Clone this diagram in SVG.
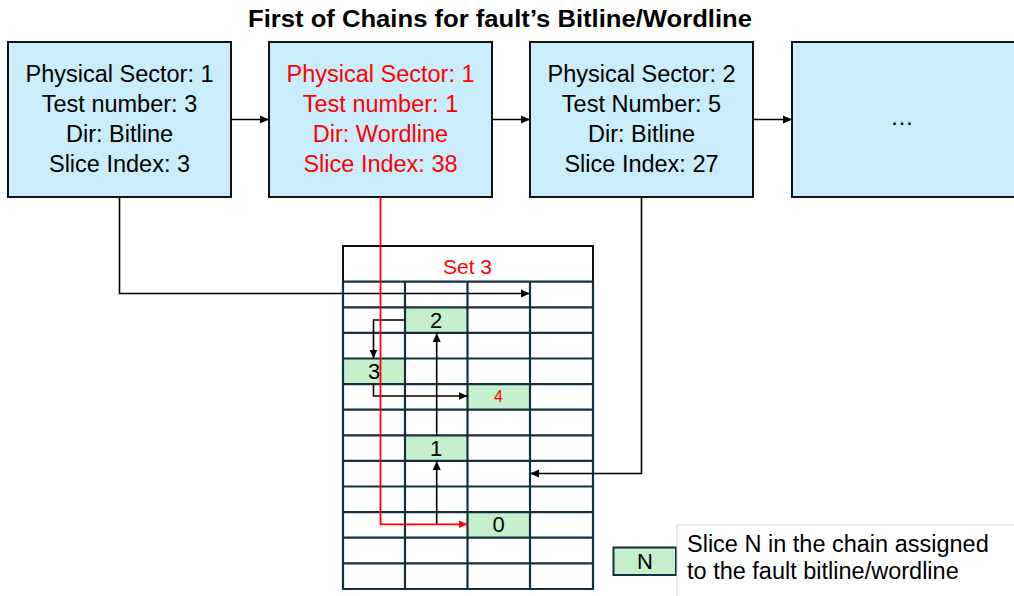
<svg xmlns="http://www.w3.org/2000/svg" width="1014" height="596" viewBox="0 0 1014 596">
<style>
.box{fill:#caedfb;stroke:#111;stroke-width:2}
.t{font-family:"Liberation Sans",Arial,sans-serif;font-size:23.5px;text-anchor:middle;fill:#000}
.red{fill:#ff0000}
.grid{stroke:#14303f;stroke-width:2.2;fill:none}
.cell{fill:#c6efcb}
.num{font-family:"Liberation Sans",Arial,sans-serif;font-size:22px;text-anchor:middle;fill:#000}
.lg{font-family:"Liberation Sans",Arial,sans-serif;font-size:23.5px;fill:#000}
.ln{fill:none;stroke:#000;stroke-width:1.6}
.lnr{fill:none;stroke:#ff0000;stroke-width:1.8}
</style>
<defs>
<marker id="ah" markerUnits="userSpaceOnUse" markerWidth="10" markerHeight="10" refX="9" refY="5" orient="auto">
<path d="M0,1 L9,5 L0,9 z" fill="#000"/>
</marker>
<marker id="ahr" markerUnits="userSpaceOnUse" markerWidth="10" markerHeight="10" refX="9" refY="5" orient="auto">
<path d="M0,1 L9,5 L0,9 z" fill="#ff0000"/>
</marker>
</defs>
<rect width="1014" height="596" fill="#fff"/>
<text x="500" y="27" font-family="'Liberation Sans',Arial,sans-serif" font-size="23.5" font-weight="bold" text-anchor="middle" textLength="504" lengthAdjust="spacingAndGlyphs">First of Chains for fault’s Bitline/Wordline</text>

<g id="node1">
<rect class="box" x="8" y="42" width="223" height="155"/>
<text class="t" x="119.5" y="82">Physical Sector: 1</text>
<text class="t" x="119.5" y="112">Test number: 3</text>
<text class="t" x="119.5" y="142">Dir: Bitline</text>
<text class="t" x="119.5" y="172">Slice Index: 3</text>
</g>
<g id="node2">
<rect class="box" x="269" y="42" width="223" height="155"/>
<text class="t red" x="380.5" y="82">Physical Sector: 1</text>
<text class="t red" x="380.5" y="112">Test number: 1</text>
<text class="t red" x="380.5" y="142">Dir: Wordline</text>
<text class="t red" x="380.5" y="172">Slice Index: 38</text>
</g>
<g id="node3">
<rect class="box" x="530" y="42" width="223" height="155"/>
<text class="t" x="641.5" y="82">Physical Sector: 2</text>
<text class="t" x="641.5" y="112">Test Number: 5</text>
<text class="t" x="641.5" y="142">Dir: Bitline</text>
<text class="t" x="641.5" y="172">Slice Index: 27</text>
</g>
<g id="node4">
<rect class="box" x="792" y="42" width="223" height="155"/>
<text class="t" x="902" y="125">…</text>
</g>

<g id="set3">
<rect x="343" y="246" width="250" height="343" fill="#fff" stroke="#111" stroke-width="2"/>
<rect class="cell" x="405" y="307.3" width="62.5" height="25.6"/>
<rect class="cell" x="343" y="358.5" width="62" height="25.6"/>
<rect class="cell" x="467.5" y="384.1" width="62.5" height="25.6"/>
<rect class="cell" x="405" y="435.3" width="62.5" height="25.6"/>
<rect class="cell" x="467.5" y="512.1" width="62.5" height="25.6"/>
<path class="grid" d="M343,281.7H593 M343,307.3H593 M343,332.9H593 M343,358.5H593 M343,384.1H593 M343,409.7H593 M343,435.3H593 M343,460.9H593 M343,486.5H593 M343,512.1H593 M343,537.7H593 M343,563.3H593 M405,281.7V589 M467.5,281.7V589 M530,281.7V589 M343,281.7V589 M593,281.7V589 M343,589H593"/>
<text x="467.5" y="274" font-family="'Liberation Sans',Arial,sans-serif" font-size="21" text-anchor="middle" fill="#ff0000">Set 3</text>
<text class="num" x="436" y="328">2</text>
<text class="num" x="374" y="379">3</text>
<text x="498.5" y="402" font-family="'Liberation Sans',Arial,sans-serif" font-size="16" text-anchor="middle" fill="#ff0000">4</text>
<text class="num" x="436" y="456">1</text>
<text class="num" x="498.5" y="532">0</text>
</g>

<g id="legend">
<rect x="613.5" y="547.5" width="62.5" height="27.5" fill="#c6efcb" stroke="#14303f" stroke-width="2"/>
<text class="num" x="645" y="569">N</text>
<rect x="677" y="525" width="345" height="75" fill="#fff" stroke="#d9d9d9" stroke-width="1"/>
<text class="lg" x="687" y="552">Slice N in the chain assigned</text>
<text class="lg" x="687" y="579">to the fault bitline/wordline</text>
</g>

<g id="connectors">
<path class="ln" d="M231,119.5H269" marker-end="url(#ah)"/>
<path class="ln" d="M492,119.5H530" marker-end="url(#ah)"/>
<path class="ln" d="M753,119.5H792" marker-end="url(#ah)"/>
<path class="ln" d="M119.5,197V293.5H530" marker-end="url(#ah)"/>
<path class="ln" d="M641.5,197V473.5H530" marker-end="url(#ah)"/>
<path class="ln" d="M436.7,524.3V461" marker-end="url(#ah)"/>
<path class="ln" d="M436.7,435.3V333" marker-end="url(#ah)"/>
<path class="ln" d="M405,320H373.5V358.5" marker-end="url(#ah)"/>
<path class="ln" d="M373.5,384.1V396H467.5" marker-end="url(#ah)"/>
<path class="lnr" d="M380.5,197V524.3H467.5" marker-end="url(#ahr)"/>
</g>
</svg>
